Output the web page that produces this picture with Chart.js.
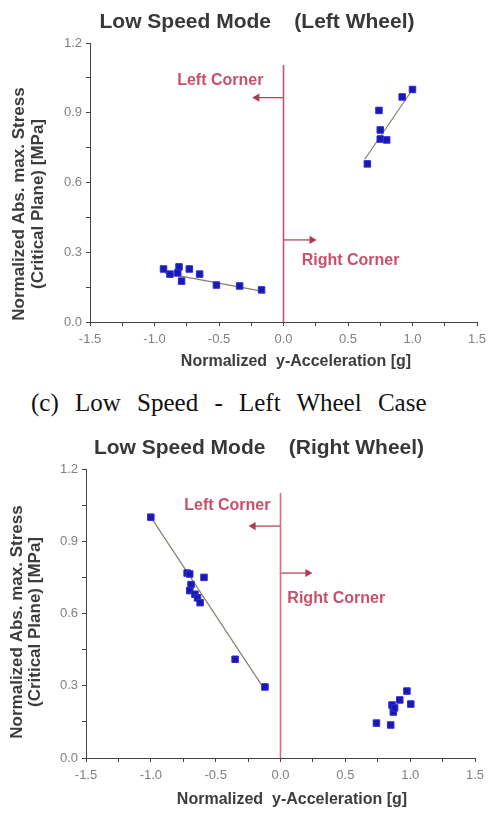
<!DOCTYPE html>
<html><head><meta charset="utf-8">
<script src="https://cdn.jsdelivr.net/npm/chart.js@4.4.1/dist/chart.umd.min.js"></script>
<style>
html,body{margin:0;padding:0;background:#fff;width:493px;height:819px;overflow:hidden}
#c1{position:absolute;left:0;top:0}
#c2{position:absolute;left:0;top:420px}
#cap{position:absolute;left:31px;top:388px;font-family:"Liberation Serif","Times New Roman",serif;font-size:25px;line-height:30px;word-spacing:10px;color:#111;white-space:nowrap}
</style></head><body>
<canvas id="c1" width="493" height="375"></canvas>
<div id="cap">(c) Low Speed - Left Wheel Case</div>
<canvas id="c2" width="493" height="399"></canvas>
<script>
// ---------- shared text / ticks ----------
const xTickLabels = ['-1.5','-1.0','-0.5','0.0','0.5','1.0','1.5'];
const yTickLabels = ['0.0','0.3','0.6','0.9','1.2'];
const xAxisTitle = 'Normalized  y-Acceleration [g]';
const yAxisTitle = ['Normalized Abs. max. Stress', '(Critical Plane) [MPa]'];
const leftCornerText = 'Left Corner';
const rightCornerText = 'Right Corner';

// ---------- chart 1: Left wheel ----------
const title1 = 'Low Speed Mode    (Left Wheel)';
const lw_negX = [-0.93, -0.88, -0.81, -0.82, -0.79, -0.73, -0.65, -0.52, -0.34, -0.17];
const lw_negY = [0.228, 0.206, 0.237, 0.211, 0.176, 0.228, 0.206, 0.159, 0.155, 0.138];
const lw_posX = [0.65, 0.75, 0.80, 0.75, 0.74, 0.92, 1.00];
const lw_posY = [0.68, 0.787, 0.783, 0.826, 0.91, 0.968, 1.00];
const lw_fitNegX = [-0.92, -0.17];
const lw_fitNegY = [0.210, 0.133];
const lw_fitPosX = [0.63, 1.00];
const lw_fitPosY = [0.70, 1.00];
const lw_dividerY = [0, 1.105];
const lw_leftArrowX = [0, -0.205];
const lw_leftArrowY = [0.965, 0.965];
const lw_rightArrowX = [0, 0.22];
const lw_rightArrowY = [0.353, 0.353];
const lw_leftLabel = [-0.49, 1.04];
const lw_rightLabel = [0.52, 0.262];

// ---------- chart 2: Right wheel ----------
const title2 = 'Low Speed Mode    (Right Wheel)';
const rw_negX = [-1.00, -0.72, -0.70, -0.59, -0.69, -0.70, -0.66, -0.64, -0.62, -0.35, -0.12];
const rw_negY = [1.00, 0.768, 0.764, 0.75, 0.72, 0.695, 0.68, 0.665, 0.645, 0.41, 0.295];
const rw_posX = [0.74, 0.85, 0.87, 0.86, 0.88, 0.92, 0.975, 1.005];
const rw_posY = [0.145, 0.137, 0.191, 0.22, 0.208, 0.241, 0.278, 0.224];
const rw_fitNegX = [-1.00, -0.13];
const rw_fitNegY = [1.00, 0.29];
const rw_dividerY = [0, 1.10];
const rw_leftArrowX = [0, -0.21];
const rw_leftArrowY = [0.963, 0.963];
const rw_rightArrowX = [0, 0.21];
const rw_rightArrowY = [0.768, 0.768];
const rw_leftLabel = [-0.41, 1.05];
const rw_rightLabel = [0.43, 0.66];

const pts = (xs, ys) => xs.map((v, i) => ({x: v, y: ys[i]}));
const labelFor = (v, labels) => {
  const f = labels.find(l => Math.abs(parseFloat(l) - v) < 1e-6);
  return f === undefined ? '' : f;
};
const SANS = '"Liberation Sans", Arial, sans-serif';

const figText = {
  id: 'figText',
  afterDraw(chart, args, o) {
    const {ctx, scales: {x, y}} = chart;
    ctx.save();
    ctx.textAlign = 'center';
    ctx.textBaseline = 'middle';
    ctx.fillStyle = '#3c3c3c';
    ctx.font = 'bold 17px ' + SANS;
    yAxisTitle.forEach((t, i) => {
      ctx.save();
      ctx.translate(o.yTitleX[i], o.yTitleY);
      ctx.rotate(-Math.PI / 2);
      ctx.fillText(t, 0, 0);
      ctx.restore();
    });
    ctx.font = 'bold 16px ' + SANS;
    ctx.fillText(xAxisTitle, o.xTitleX, o.xTitleY);
    ctx.fillStyle = '#c8506a';
    ctx.font = 'bold 16px ' + SANS;
    ctx.fillText(leftCornerText, x.getPixelForValue(o.left[0]), y.getPixelForValue(o.left[1]));
    ctx.fillText(rightCornerText, x.getPixelForValue(o.right[0]), y.getPixelForValue(o.right[1]));
    ctx.restore();
  }
};

function makeChart(id, cfg) {
  const markerFill = '#1a1aa8', markerEdge = '#2c2ce6';
  const datasets = [
    {data: pts(cfg.negX, cfg.negY), pointStyle: 'rect', pointRadius: 4.6, backgroundColor: markerFill, borderColor: markerEdge, borderWidth: 1, showLine: false},
    {data: pts(cfg.posX, cfg.posY), pointStyle: 'rect', pointRadius: 4.6, backgroundColor: markerFill, borderColor: markerEdge, borderWidth: 1, showLine: false}
  ];
  cfg.fits.forEach(f => datasets.push({data: pts(f[0], f[1]), showLine: true, pointRadius: 0, borderColor: '#8a7c6c', borderWidth: 1.2}));
  datasets.push({data: pts([0, 0], cfg.divider), showLine: true, pointRadius: 0, borderColor: cfg.dividerColor, borderWidth: 1.6});
  datasets.push({data: pts(cfg.lArrX, cfg.lArrY), showLine: true, pointRadius: [0, 3.5], pointStyle: 'triangle', rotation: 270, borderColor: '#b03a50', backgroundColor: '#b03a50', borderWidth: 1.2});
  datasets.push({data: pts(cfg.rArrX, cfg.rArrY), showLine: true, pointRadius: [0, 3.5], pointStyle: 'triangle', rotation: 90, borderColor: '#b03a50', backgroundColor: '#b03a50', borderWidth: 1.2});

  const axisCommon = {
    type: 'linear',
    border: {display: true, color: '#444', width: 1},
    grid: {display: true, drawOnChartArea: false, drawTicks: true, tickLength: 4, color: '#444'},
  };
  return new Chart(document.getElementById(id), {
    type: 'scatter',
    data: {datasets},
    plugins: [figText],
    options: {
      responsive: false,
      animation: false,
      events: [],
      layout: {padding: {left: cfg.padL, right: cfg.padR, top: 0, bottom: 0}},
      plugins: {
        legend: {display: false},
        tooltip: {enabled: false},
        title: {display: true, text: cfg.title, color: '#383838', font: {family: SANS, size: 21, weight: 'bold', lineHeight: 1.2}, padding: {top: cfg.tPadT, bottom: cfg.tPadB}},
        figText: cfg.text
      },
      scales: {
        x: Object.assign({}, axisCommon, {
          min: -1.5, max: 1.5,
          ticks: {stepSize: 0.25, autoSkip: false, maxRotation: 0, padding: 6, color: '#808080', font: {family: SANS, size: 13}, callback: v => labelFor(v, xTickLabels)},
          afterFit: s => { s.height = cfg.xH; }
        }),
        y: Object.assign({}, axisCommon, {
          min: 0, max: 1.2,
          ticks: {stepSize: 0.15, autoSkip: false, padding: 4, color: '#808080', font: {family: SANS, size: 13}, callback: v => labelFor(v, yTickLabels)},
          afterFit: s => { s.width = cfg.yW; }
        })
      }
    }
  });
}

makeChart('c1', {
  title: title1, negX: lw_negX, negY: lw_negY, posX: lw_posX, posY: lw_posY,
  fits: [[lw_fitNegX, lw_fitNegY], [lw_fitPosX, lw_fitPosY]],
  divider: lw_dividerY, dividerColor: '#c45270',
  lArrX: lw_leftArrowX, lArrY: lw_leftArrowY, rArrX: lw_rightArrowX, rArrY: lw_rightArrowY,
  padL: 37, padR: 16, yW: 53, xH: 53, tPadT: 10, tPadB: 7.8,
  text: {yTitleX: [19, 38], yTitleY: 204, xTitleX: 296, xTitleY: 362, left: lw_leftLabel, right: lw_rightLabel}
});

makeChart('c2', {
  title: title2, negX: rw_negX, negY: rw_negY, posX: rw_posX, posY: rw_posY,
  fits: [[rw_fitNegX, rw_fitNegY]],
  divider: rw_dividerY, dividerColor: '#e0687e',
  lArrX: rw_leftArrowX, lArrY: rw_leftArrowY, rArrX: rw_rightArrowX, rArrY: rw_rightArrowY,
  padL: 43, padR: 18, yW: 43, xH: 61, tPadT: 15.4, tPadB: 8.4,
  text: {yTitleX: [17, 35], yTitleY: 202, xTitleX: 292, xTitleY: 380, left: rw_leftLabel, right: rw_rightLabel}
});
</script>
</body></html>
